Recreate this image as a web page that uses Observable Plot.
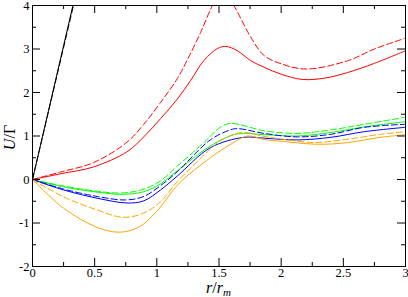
<!DOCTYPE html>
<html><head><meta charset="utf-8">
<script src="https://cdn.jsdelivr.net/npm/d3@7"></script>
<script src="https://cdn.jsdelivr.net/npm/@observablehq/plot@0.6"></script>
<style>body{margin:0;background:#fff} svg text{font-family:"Liberation Serif","DejaVu Serif",serif}</style>
</head><body><div id="chart"></div>
<script>
// Tick positions
const xMajor = [0, 0.5, 1, 1.5, 2, 2.5, 3];
const xMinor = [0.25, 0.75, 1.25, 1.75, 2.25, 2.75];
const yMajor = [-2, -1, 0, 1, 2, 3, 4];
const yMinor = [-1.5, -0.5, 0.5, 1.5, 2.5, 3.5];

// Black lines (steep)
const blackR = [0, 0.36];
const blackSolidU = [0, 4.43];
const blackDashU = [0, 4.37];

// Red
const redSolidR = [0, 0.223, 0.492, 0.761, 0.895, 1.03, 1.165, 1.27, 1.38, 1.487, 1.554, 1.648, 1.756, 1.863, 2.0, 2.17, 2.35, 2.535, 2.75, 3.0];
const redSolidU = [0, 0.13, 0.29, 0.64, 0.98, 1.40, 1.85, 2.27, 2.74, 3.01, 3.06, 2.96, 2.73, 2.58, 2.42, 2.30, 2.33, 2.46, 2.67, 2.96];
const redDashR = [0, 0.223, 0.492, 0.761, 0.895, 1.03, 1.165, 1.245, 1.352, 1.447, 1.53, 1.62, 1.756, 1.863, 2.0, 2.2, 2.535, 2.75, 3.0];
const redDashU = [0, 0.17, 0.39, 0.86, 1.27, 1.77, 2.32, 2.75, 3.38, 4.0, 4.4, 4.0, 3.27, 2.85, 2.66, 2.54, 2.73, 3.0, 3.25];

// Green
const greenSolidR = [0, 0.25, 0.52, 0.72, 0.895, 1.03, 1.165, 1.43, 1.65, 1.863, 2.13, 2.40, 2.67, 3.0];
const greenSolidU = [0, -0.17, -0.29, -0.34, -0.28, -0.10, 0.20, 0.77, 1.05, 1.03, 1.00, 1.08, 1.21, 1.33];
const greenDashR = [0, 0.25, 0.52, 0.72, 0.895, 1.03, 1.165, 1.38, 1.51, 1.594, 1.863, 2.13, 2.40, 2.67, 3.0];
const greenDashU = [0, -0.15, -0.27, -0.31, -0.22, -0.03, 0.31, 0.85, 1.20, 1.29, 1.12, 1.06, 1.14, 1.27, 1.43];

// Blue
const blueSolidR = [0, 0.25, 0.52, 0.76, 0.895, 1.03, 1.165, 1.43, 1.70, 1.863, 2.13, 2.40, 2.67, 3.0];
const blueSolidU = [0, -0.24, -0.43, -0.54, -0.49, -0.24, 0.08, 0.73, 0.97, 0.95, 0.91, 0.97, 1.10, 1.20];
const blueDashR = [0, 0.25, 0.52, 0.75, 0.895, 1.03, 1.165, 1.43, 1.59, 1.65, 1.863, 2.13, 2.40, 2.67, 3.0];
const blueDashU = [0, -0.22, -0.39, -0.47, -0.39, -0.14, 0.18, 0.91, 1.14, 1.17, 1.06, 0.98, 1.04, 1.20, 1.27];

// Orange
const orangeSolidR = [0, 0.25, 0.52, 0.68, 0.80, 0.895, 1.03, 1.165, 1.43, 1.60, 1.73, 1.863, 2.0, 2.3, 2.54, 2.80, 3.0];
const orangeSolidU = [0, -0.66, -1.10, -1.21, -1.16, -1.02, -0.63, -0.13, 0.50, 0.82, 1.0, 0.92, 0.88, 0.81, 0.85, 0.97, 1.03];
const orangeDashR = [0, 0.25, 0.52, 0.73, 0.895, 1.03, 1.165, 1.43, 1.51, 1.68, 1.863, 2.0, 2.27, 2.54, 2.80, 3.0];
const orangeDashU = [0, -0.40, -0.70, -0.87, -0.77, -0.51, -0.05, 0.70, 0.89, 1.08, 0.99, 0.93, 0.85, 0.93, 1.04, 1.10];

const series = [
  {r: blackR, u: blackSolidU, color: "#000000", dash: null},
  {r: blackR, u: blackDashU, color: "#000000", dash: "6,3"},
  {r: redSolidR, u: redSolidU, color: "#ff0000", dash: null},
  {r: redDashR, u: redDashU, color: "#ff0000", dash: "6,3"},
  {r: greenSolidR, u: greenSolidU, color: "#00ff00", dash: null},
  {r: greenDashR, u: greenDashU, color: "#00ff00", dash: "6,3"},
  {r: blueSolidR, u: blueSolidU, color: "#0000ff", dash: null},
  {r: blueDashR, u: blueDashU, color: "#0000ff", dash: "6,3"},
  {r: orangeSolidR, u: orangeSolidU, color: "#ffa500", dash: null},
  {r: orangeDashR, u: orangeDashU, color: "#ffa500", dash: "6,3"}
];

const W = 408, H = 297;
const mL = 32, mR = 3, mT = 5, mB = 31;
const innerW = W - mL - mR, innerH = H - mT - mB;
const major = 8, minor = 4;
const serif = '"Liberation Serif", "DejaVu Serif", serif';

const lineMarks = series.map(s => Plot.line(
  s.r.map((r, i) => ({r, u: s.u[i]})),
  {x: "r", y: "u", stroke: s.color, strokeWidth: 1, strokeDasharray: s.dash, curve: "catmull-rom", clip: true}
));

const fmt = d => String(d);

const svg = Plot.plot({
  width: W, height: H,
  marginLeft: mL, marginRight: mR, marginTop: mT, marginBottom: mB,
  style: {background: "#fff", color: "#000", fontSize: "12.5px"},
  x: {domain: [0, 3]},
  y: {domain: [-2, 4]},
  marks: [
    ...lineMarks,
    Plot.frame({stroke: "#000", strokeWidth: 1}),
    Plot.tickX(xMajor, {x: d => d, insetTop: innerH - major, stroke: "#000"}),
    Plot.tickX(xMajor, {x: d => d, insetBottom: innerH - major, stroke: "#000"}),
    Plot.tickX(xMinor, {x: d => d, insetTop: innerH - minor, stroke: "#000"}),
    Plot.tickX(xMinor, {x: d => d, insetBottom: innerH - minor, stroke: "#000"}),
    Plot.tickY(yMajor, {y: d => d, insetRight: innerW - major, stroke: "#000"}),
    Plot.tickY(yMajor, {y: d => d, insetLeft: innerW - major, stroke: "#000"}),
    Plot.tickY(yMinor, {y: d => d, insetRight: innerW - minor, stroke: "#000"}),
    Plot.tickY(yMinor, {y: d => d, insetLeft: innerW - minor, stroke: "#000"}),
    Plot.axisX(xMajor, {tickSize: 0, tickPadding: 2, tickFormat: fmt, label: null}),
    Plot.axisY(yMajor, {tickSize: 0, tickPadding: 3, tickFormat: fmt, label: null})
  ]
});

const s = d3.select(svg);
s.attr("font-family", serif);
// y axis label
const yl = s.append("text")
  .attr("transform", `translate(15,${mT + innerH / 2 + 2}) rotate(-90)`)
  .attr("text-anchor", "middle")
  .attr("font-size", 16);
yl.append("tspan").attr("font-style", "italic").text("U");
yl.append("tspan").text("/Γ");
// x axis label
const xl = s.append("text")
  .attr("x", mL + innerW / 2)
  .attr("y", H - 4)
  .attr("text-anchor", "middle")
  .attr("font-size", 16)
  .attr("font-style", "italic");
xl.append("tspan").text("r");
xl.append("tspan").attr("font-style", "normal").text("/");
xl.append("tspan").text("r");
xl.append("tspan").attr("dy", 3).attr("font-size", 11).text("m");
s.selectAll("text").each(function(){ this.style.setProperty("font-family", serif, "important"); });
s.selectAll("g").each(function(){ this.style.setProperty("font-family", serif, "important"); });

document.getElementById("chart").appendChild(svg);
</script>
</body></html>
